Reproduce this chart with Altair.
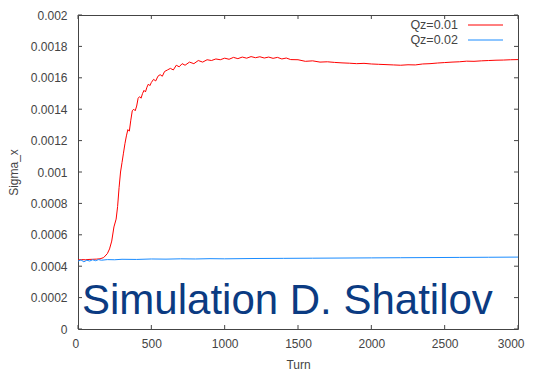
import altair as alt
import pandas as pd

# Qz=0.01 series (red)
red_turn = [0, 25, 50, 75, 100, 125, 150, 175, 200, 215, 230, 245, 260, 270, 280, 290, 300, 310, 320, 330,
            340, 350, 360, 370, 380, 390, 400, 410, 420, 430, 440, 450, 460, 470, 480, 490, 500, 515, 530, 545,
            560, 575, 590, 610, 630, 650, 670, 690, 710, 730, 760, 790, 820, 850, 880, 910, 940, 970, 1000, 1030,
            1060, 1090, 1120, 1150, 1180, 1210, 1240, 1270, 1300, 1330, 1360, 1390, 1420, 1450, 1500, 1550, 1600,
            1650, 1700, 1750, 1800, 1850, 1900, 1950, 2000, 2050, 2100, 2150, 2200, 2250, 2300, 2350, 2400, 2450,
            2500, 2550, 2600, 2650, 2700, 2750, 2800, 2850, 2900, 2950, 3000]
red_val = [0.000440, 0.000442, 0.000441, 0.000443, 0.000444, 0.000445, 0.000447, 0.000455, 0.000480, 0.000510,
           0.000560, 0.000650, 0.000700, 0.000780, 0.000900, 0.001000, 0.001060, 0.001120, 0.001180, 0.001230,
           0.001270, 0.001260, 0.001330, 0.001390, 0.001400, 0.001390, 0.001420, 0.001470, 0.001480, 0.001470,
           0.001500, 0.001520, 0.001510, 0.001540, 0.001560, 0.001550, 0.001570, 0.001590, 0.001580, 0.001610,
           0.001620, 0.001610, 0.001640, 0.001650, 0.001660, 0.001650, 0.001680, 0.001670, 0.001690, 0.001680,
           0.001700, 0.001690, 0.001710, 0.001700, 0.001715, 0.001710, 0.001720, 0.001715, 0.001725, 0.001718,
           0.001730, 0.001722, 0.001732, 0.001725, 0.001735, 0.001728, 0.001734, 0.001726, 0.001732, 0.001724,
           0.001730, 0.001720, 0.001726, 0.001716, 0.001715, 0.001705, 0.001708, 0.001700, 0.001702, 0.001698,
           0.001695, 0.001693, 0.001690, 0.001692, 0.001688, 0.001686, 0.001684, 0.001682, 0.001680, 0.001683,
           0.001682, 0.001688, 0.001690, 0.001694, 0.001697, 0.001700, 0.001702, 0.001706, 0.001705, 0.001708,
           0.001710, 0.001712, 0.001713, 0.001715, 0.001716]

# Qz=0.02 series (blue)
blue_turn = [0, 20, 40, 60, 80, 100, 120, 140, 160, 200, 250, 300, 400, 500, 600, 700, 800, 900, 1000,
             1200, 1400, 1600, 1800, 2000, 2200, 2400, 2600, 2800, 3000]
blue_val = [0.000432, 0.000440, 0.000428, 0.000438, 0.000433, 0.000441, 0.000435, 0.000442, 0.000438, 0.000442,
            0.000441, 0.000444, 0.000443, 0.000446, 0.000445, 0.000447, 0.000446, 0.000448, 0.000447,
            0.000449, 0.000450, 0.000451, 0.000452, 0.000453, 0.000454, 0.000455, 0.000456, 0.000457, 0.000458]

series_names = ["Qz=0.01", "Qz=0.02"]
series_colors = ["#ff0000", "#1a8cff"]
x_ticks = [0, 500, 1000, 1500, 2000, 2500, 3000]
y_ticks = [0, 0.0002, 0.0004, 0.0006, 0.0008, 0.001, 0.0012, 0.0014, 0.0016, 0.0018, 0.002]
watermark = "Simulation D. Shatilov"

df = pd.concat([
    pd.DataFrame({"Turn": red_turn, "Sigma_x": red_val, "series": series_names[0]}),
    pd.DataFrame({"Turn": blue_turn, "Sigma_x": blue_val, "series": series_names[1]}),
])

W, H = 440, 314
FONT = "Liberation Sans"
AX = "#444444"

xs = alt.Scale(domain=[0, 3000], nice=False)
ys = alt.Scale(domain=[0, 0.002], nice=False)
X_AX = alt.Axis(values=x_ticks, format="d", title="Turn", ticks=False, domain=False, grid=False,
                labelOverlap=False, labelPadding=9, titlePadding=10,
                labelFlush=True, labelFlushOffset=6)
Y_AX = alt.Axis(values=y_ticks, format="~g", title="Sigma_x", ticks=False, domain=False, grid=False,
                labelOverlap=False, labelPadding=11, titlePadding=10)

lines = alt.Chart(df).mark_line(strokeWidth=1).encode(
    x=alt.X("Turn:Q", scale=xs, axis=X_AX),
    y=alt.Y("Sigma_x:Q", scale=ys, axis=Y_AX),
    color=alt.Color("series:N", scale=alt.Scale(domain=series_names, range=series_colors), legend=None),
)

ydf = pd.DataFrame({"v": y_ticks})
xdf = pd.DataFrame({"v": x_ticks})
tick_left = alt.Chart(ydf).mark_rule(color=AX).encode(y=alt.Y("v:Q", scale=ys, axis=Y_AX), x=alt.value(0), x2=alt.value(4))
tick_right = alt.Chart(ydf).mark_rule(color=AX).encode(y=alt.Y("v:Q", scale=ys, axis=Y_AX), x=alt.value(W - 4), x2=alt.value(W))
tick_bot = alt.Chart(xdf).mark_rule(color=AX).encode(x=alt.X("v:Q", scale=xs, axis=X_AX), y=alt.value(H - 4), y2=alt.value(H))
tick_top = alt.Chart(xdf).mark_rule(color=AX).encode(x=alt.X("v:Q", scale=xs, axis=X_AX), y=alt.value(0), y2=alt.value(4))

leg_layers = []
for i, (name, col) in enumerate(zip(series_names, series_colors)):
    ld = pd.DataFrame({"name": [name]})
    ypos = 10 + 15 * i
    leg_layers.append(alt.Chart(ld).mark_text(align="right", baseline="middle", font=FONT, fontSize=12.5,
                                              color="#444444").encode(
        text="name:N", x=alt.value(380), y=alt.value(ypos)))
    leg_layers.append(alt.Chart(ld).mark_rule(color=col, strokeWidth=1).encode(
        x=alt.value(390), x2=alt.value(425), y=alt.value(ypos)))

wm = alt.Chart(pd.DataFrame({"t": [watermark]})).mark_text(
    align="left", baseline="alphabetic", font=FONT, fontSize=42, color="#0b3b82").encode(
    text="t:N", x=alt.value(4), y=alt.value(299))

chart = alt.layer(lines, tick_left, tick_right, tick_bot, tick_top, wm, *leg_layers).properties(
    width=W, height=H,
    background="white",
    autosize=alt.AutoSizeParams(type="none"),
    padding={"left": 70, "top": 7, "right": 7, "bottom": 44},
).configure_view(stroke=AX, strokeWidth=1).configure_axis(
    labelFont=FONT, titleFont=FONT, labelFontSize=12, titleFontSize=12,
    labelColor="#444444", titleColor="#444444", titleFontWeight="normal",
)

chart.save("out.html", embed_options={"renderer": "svg", "actions": False})
